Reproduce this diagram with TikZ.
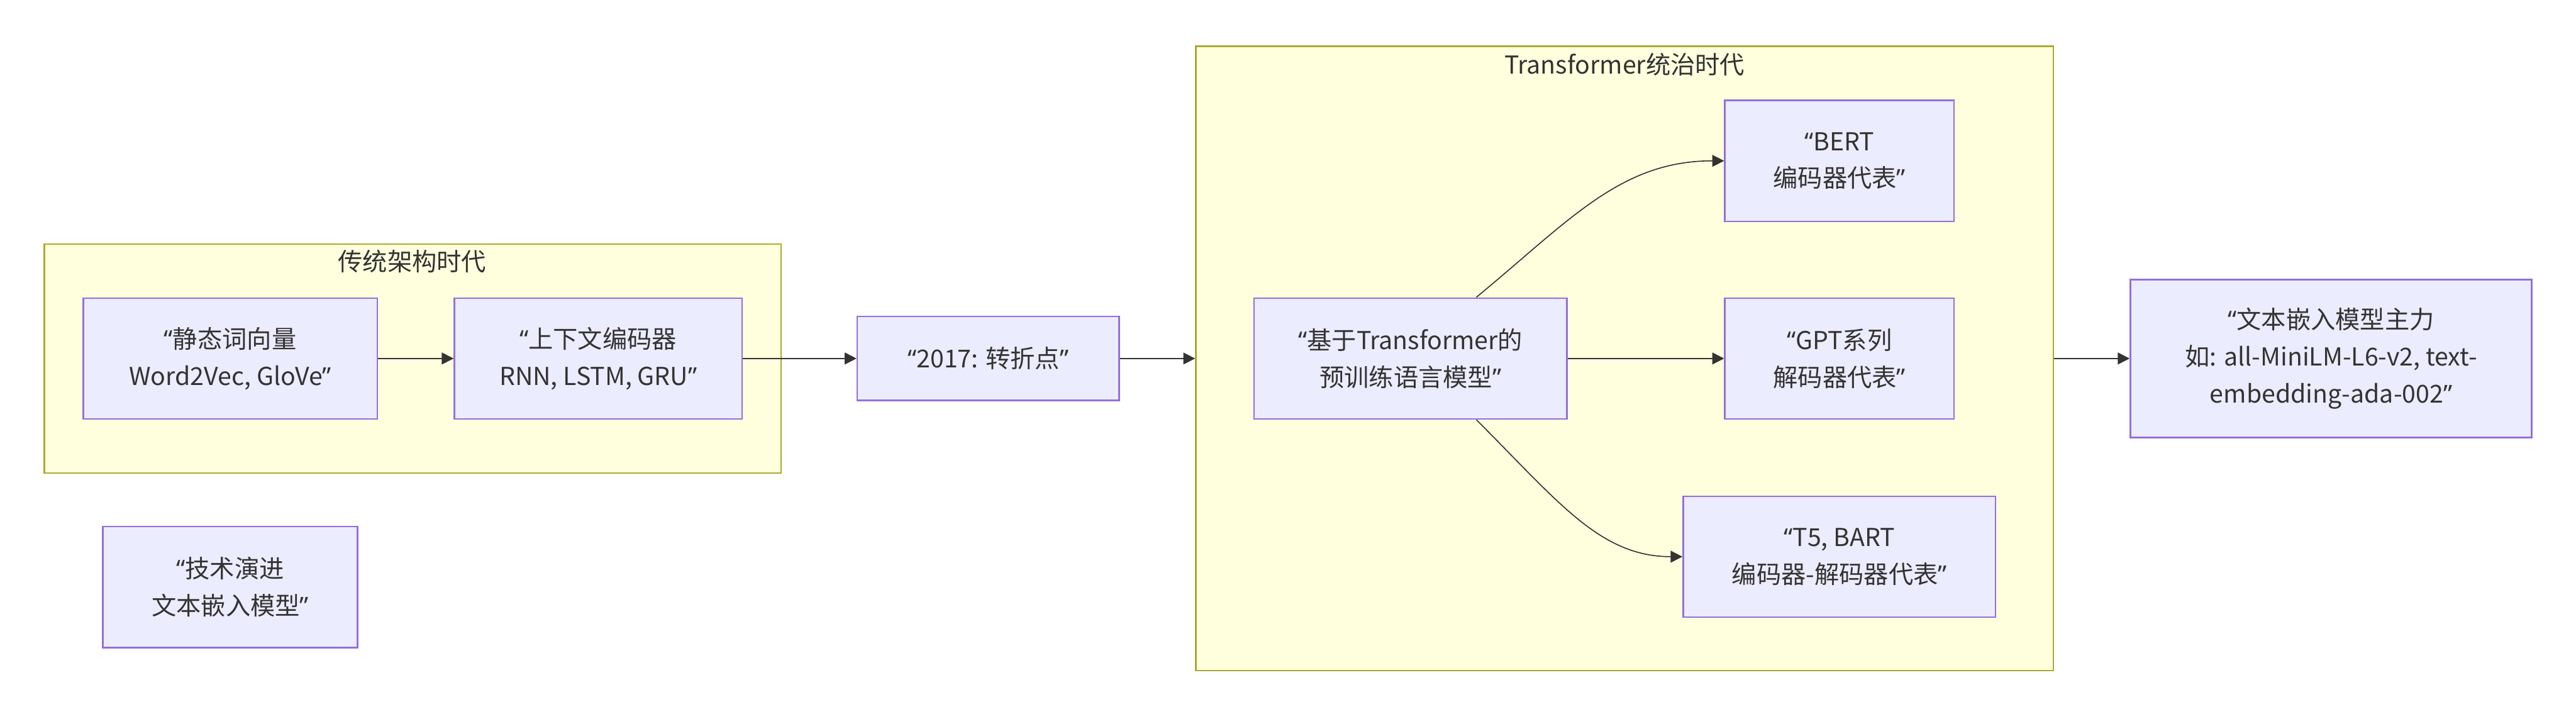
\documentclass[tikz,border=0pt]{standalone}
\usepackage{fontspec}
\setmainfont{Noto Sans CJK SC}
\newfontfamily\qfont{Noto Sans}
\usetikzlibrary{arrows.meta}
\newcommand{\oq}{{\qfont “}}
\newcommand{\cq}{{\qfont ”}}
\definecolor{nodefill}{HTML}{ECECFF}
\definecolor{nodeline}{HTML}{9370DB}
\definecolor{clfill}{HTML}{FFFFDE}
\definecolor{clline}{HTML}{AAAA33}
\definecolor{txt}{HTML}{333333}
\tikzset{
  basefont/.style={font=\fontsize{13.66pt}{20.49pt}\selectfont, text=txt},
  box/.style={basefont, draw=nodeline, fill=nodefill, line width=0.03cm, inner sep=0pt, align=center},
  cluster/.style={draw=clline, fill=clfill, line width=0.03cm, inner sep=0pt},
  cltitle/.style={basefont, inner sep=0pt},
  edge/.style={draw=txt, line width=0.02cm, -{Triangle[length=0.23cm, width=0.23cm]}}
}
\begin{document}
\begin{tikzpicture}
\useasboundingbox (0,0) rectangle (50.06,13.86);
\fill[white] (0,0) rectangle (50.06,13.86);
% clusters
\node[cluster, minimum width=14.32cm, minimum height=4.45cm] (clA) at (8.02,6.895) {};
\node[cltitle] (tA) at (8.01,8.78) {传统架构时代};
\node[cluster, minimum width=16.66cm, minimum height=12.13cm] (clB) at (31.57,6.895) {};
\node[cltitle] (tB) at (31.57,12.61) {Transformer统治时代};
% nodes
\node[box, minimum width=5.71cm, minimum height=2.35cm] (n1) at (4.475,6.895) {\oq 静态词向量\\Word2Vec, GloVe\cq};
\node[box, minimum width=5.59cm, minimum height=2.35cm] (n2) at (11.625,6.895) {\oq 上下文编码器\\RNN, LSTM, GRU\cq};
\node[box, minimum width=5.09cm, minimum height=1.63cm] (n2017) at (19.205,6.895) {\oq 2017: 转折点\cq};
\node[box, minimum width=6.08cm, minimum height=2.35cm] (tf) at (27.41,6.895) {\oq 基于Transformer的\\预训练语言模型\cq};
\node[box, minimum width=4.45cm, minimum height=2.35cm] (bert) at (35.745,10.735) {\oq BERT\\编码器代表\cq};
\node[box, minimum width=4.45cm, minimum height=2.35cm] (gpt) at (35.745,6.895) {\oq GPT系列\\解码器代表\cq};
\node[box, minimum width=6.07cm, minimum height=2.35cm] (t5) at (35.745,3.045) {\oq T5, BART\\编码器-解码器代表\cq};
\node[box, minimum width=7.80cm, minimum height=3.07cm] (fin) at (45.30,6.895) {\oq 文本嵌入模型主力\\如: all-MiniLM-L6-v2, text-\\embedding-ada-002\cq};
\node[box, minimum width=4.95cm, minimum height=2.35cm] (evo) at (4.475,2.455) {\oq 技术演进\\文本嵌入模型\cq};
% edges
\draw[edge] (n1) -- (n2);
\draw[edge] (n2) -- (n2017);
\draw[edge] (n2017) -- (clB.west);
\draw[edge] ([xshift=1.28cm]tf.north) .. controls +(1.81,1.49) and +(-2.02,0) .. (bert.west);
\draw[edge] (tf) -- (gpt);
\draw[edge] ([xshift=1.28cm]tf.south) .. controls +(1.6,-1.6) and +(-1.6,0) .. (t5.west);
\draw[edge] (clB.east) -- (fin);
\end{tikzpicture}
\end{document}
